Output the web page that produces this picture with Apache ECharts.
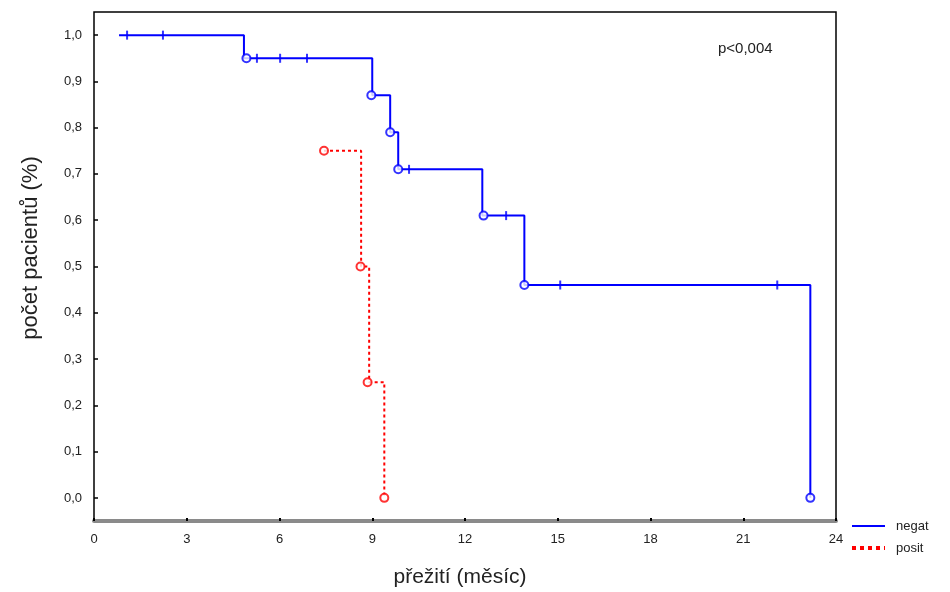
<!DOCTYPE html>
<html>
<head>
<meta charset="utf-8">
<script src="https://cdn.jsdelivr.net/npm/echarts@6/dist/echarts.min.js"></script>
<style>html,body{margin:0;padding:0;background:#fff}#c{width:950px;height:592px}</style>
</head>
<body>
<div id="c"></div>
<script>
// Kaplan-Meier step points [month, survival]
var negatSteps = [[0.81,1.0],[4.85,0.95],[9.0,0.87],[9.58,0.79],[9.84,0.71],[12.56,0.61],[13.92,0.46],[23.17,0.0]];
var negatEvents = [[4.93,0.95],[8.97,0.87],[9.58,0.79],[9.84,0.71],[12.6,0.61],[13.92,0.46],[23.17,0.0]];
var negatCensored = [[1.07,1.0],[2.23,1.0],[5.27,0.95],[6.02,0.95],[6.89,0.95],[10.19,0.71],[13.33,0.61],[15.08,0.46],[22.1,0.46]];
var positSteps = [[7.44,0.75],[8.64,0.5],[8.9,0.25],[9.39,0.0]];
var positEvents = [[7.44,0.75],[8.62,0.5],[8.85,0.25],[9.39,0.0]];
var seriesNames = ['negat','posit'];
var xTicks = [0,3,6,9,12,15,18,21,24];
var yTicks = [0,0.1,0.2,0.3,0.4,0.5,0.6,0.7,0.8,0.9,1.0];
var pText = 'p<0,004';
var xTitle = 'přežití (měsíc)';
var yTitle = 'počet pacientů (%)';

var BLUE = '#0000ff', RED = '#ff0000';
var font = 'Liberation Sans, Arial, sans-serif';
var chart = echarts.init(document.getElementById('c'), null, {renderer:'canvas'});
chart.setOption({
  backgroundColor:'#fff',
  animation:false,
  grid:[
    {left:94, right:114, top:12, bottom:71, show:true, borderColor:'#000', borderWidth:1.5, backgroundColor:'transparent'},
    {left:94, right:114, top:35, bottom:94, show:false}
  ],
  xAxis:[
    {gridIndex:0, type:'value', min:xTicks[0], max:xTicks[xTicks.length-1], interval:3,
     axisLine:{show:true, onZero:false, lineStyle:{color:'#8a8a8a', width:4}},
     axisTick:{show:true, inside:true, length:3, lineStyle:{color:'#000', width:2}},
     splitLine:{show:false},
     axisLabel:{color:'#222', fontSize:13, fontFamily:font, margin:12}},
    {gridIndex:1, type:'value', min:0, max:24, show:false}
  ],
  yAxis:[
    {gridIndex:0, type:'value', min:-0.05, max:1.05, show:false, splitLine:{show:false}},
    {gridIndex:1, type:'value', min:0, max:1, interval:0.1,
     axisLine:{show:false},
     axisTick:{show:true, inside:true, length:4, lineStyle:{color:'#000', width:1.5}},
     splitLine:{show:false},
     axisLabel:{color:'#222', fontSize:13, fontFamily:font, margin:12,
       formatter:function(v){return v.toFixed(1).replace('.',',');}}}
  ],
  series:[
    {name:seriesNames[0], type:'line', step:'end', data:negatSteps, xAxisIndex:0, yAxisIndex:0,
     symbol:'none', lineStyle:{color:BLUE, width:2}, itemStyle:{color:BLUE}, z:3},
    {name:seriesNames[1], type:'line', step:'end', data:positSteps, xAxisIndex:0, yAxisIndex:0,
     symbol:'none', lineStyle:{color:RED, width:2, type:[3,3]}, itemStyle:{color:RED}, z:3},
    {type:'scatter', data:negatEvents, xAxisIndex:0, yAxisIndex:0, symbol:'circle', symbolSize:8,
     itemStyle:{color:'#fff', borderColor:BLUE, borderWidth:2}, z:4},
    {type:'scatter', data:negatCensored, xAxisIndex:0, yAxisIndex:0, symbol:'rect', symbolSize:[2,9],
     itemStyle:{color:BLUE}, z:4},
    {type:'scatter', data:positEvents, xAxisIndex:0, yAxisIndex:0, symbol:'circle', symbolSize:8,
     itemStyle:{color:'#fff', borderColor:RED, borderWidth:2}, z:4}
  ],
  graphic:[
    {type:'text', left:718, top:41, style:{text:pText, fill:'#222', font:'15px '+font}},
    {type:'text', x:460, y:577, style:{text:xTitle, fill:'#222', font:'21px '+font, align:'center', verticalAlign:'middle'}},
    {type:'text', x:31, y:248, rotation:Math.PI/2, style:{text:yTitle, fill:'#222', font:'22px '+font, align:'center', verticalAlign:'middle'}},
    // legend
    {type:'line', shape:{x1:852, y1:526, x2:885, y2:526}, style:{stroke:BLUE, lineWidth:2}},
    {type:'text', x:896, y:526, style:{text:seriesNames[0], fill:'#222', font:'13px '+font, verticalAlign:'middle'}},
    {type:'line', shape:{x1:852, y1:548, x2:885, y2:548}, style:{stroke:RED, lineWidth:4, lineDash:[4,4]}},
    {type:'text', x:896, y:548, style:{text:seriesNames[1], fill:'#222', font:'13px '+font, verticalAlign:'middle'}}
  ]
});
</script>
</body>
</html>
